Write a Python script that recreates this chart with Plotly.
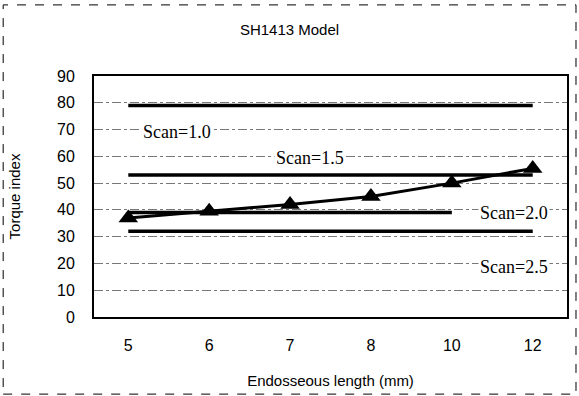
import plotly.graph_objects as go

categories = ["5", "6", "7", "8", "10", "12"]
torque_values = [37, 39.5, 42, 45, 50, 55.5]

scan_labels = ["Scan=1.0", "Scan=1.5", "Scan=2.0", "Scan=2.5"]
scan_levels = [79, 53, 39, 32]
scan_start = ["5", "5", "5", "5"]
scan_end = ["12", "12", "10", "12"]
label_x = [0.6, 2.25, 4.77, 4.77]
label_y = [69, 59.5, 39, 18.5]

y_ticks = [0, 10, 20, 30, 40, 50, 60, 70, 80, 90]

fig = go.Figure()
for lvl, s, e in zip(scan_levels, scan_start, scan_end):
    fig.add_trace(go.Scatter(x=[s, e], y=[lvl, lvl], mode="lines",
                             line=dict(color="black", width=3.5), showlegend=False,
                             hoverinfo="skip"))
fig.add_trace(go.Scatter(x=categories, y=torque_values, mode="lines+markers",
                         line=dict(color="black", width=3),
                         marker=dict(symbol="triangle-up", size=17, color="black"),
                         showlegend=False))

for t, x, y in zip(scan_labels, label_x, label_y):
    fig.add_annotation(x=x, y=y, text=t, showarrow=False, xref="x", yref="y",
                       font=dict(family="Liberation Serif, Times New Roman, serif", size=18, color="black"),
                       bgcolor="white")

fig.add_shape(type="rect", xref="paper", yref="paper", x0=-0.192, x1=1.019, y0=-0.32, y1=1.295,
              line=dict(color="black", width=1, dash="dash"), layer="below")

fig.update_layout(
    width=579, height=396,
    margin=dict(l=94, r=12, t=76, b=79, autoexpand=False),
    paper_bgcolor="white", plot_bgcolor="white",
    title=dict(text="SH1413 Model", x=0.5, xanchor="center", y=0.925, yanchor="middle",
               font=dict(family="Liberation Sans, Arial, sans-serif", size=15, color="black")),
    font=dict(family="Liberation Sans, Arial, sans-serif", size=16, color="black"),
    xaxis=dict(type="category", categoryorder="array", categoryarray=categories,
               showgrid=False, showline=True, linecolor="black", linewidth=2, mirror=True,
               ticks="", tickfont=dict(size=16), ticklabelstandoff=13, automargin=False,
               title=dict(text="Endosseous length (mm)", font=dict(size=15), standoff=22)),
    yaxis=dict(range=[0, 90], tickvals=y_ticks, showgrid=True, gridcolor="#777777",
               griddash="dashdot", gridwidth=1, showline=True, linecolor="black", linewidth=2,
               mirror=True, ticks="", tickfont=dict(size=16), zeroline=False, automargin=False,
               ticklabelstandoff=14,
               title=dict(text="Torque index", font=dict(size=15), standoff=33)),
)

fig.write_html("out.html", config={"displayModeBar": False},
               post_script="document.body.style.margin='0';document.body.style.overflow='hidden';")
